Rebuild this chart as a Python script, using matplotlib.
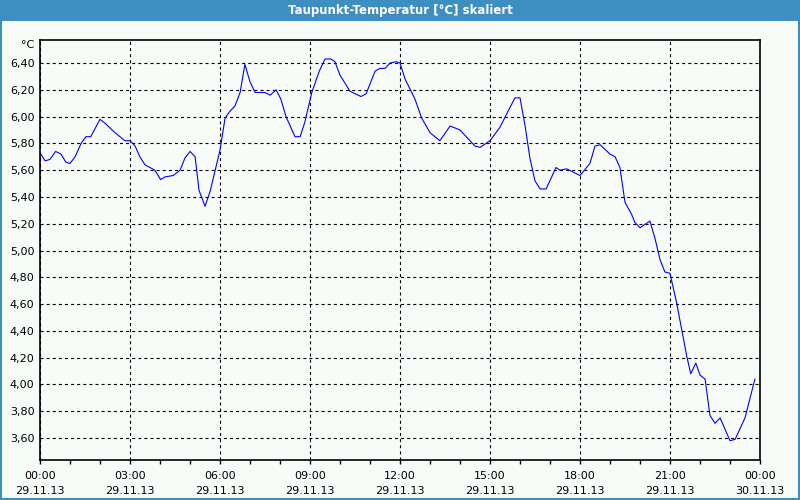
import numpy as np
import matplotlib
matplotlib.use('Agg')
import matplotlib.pyplot as plt
from matplotlib.patches import Rectangle
from matplotlib.ticker import FuncFormatter, MultipleLocator

# Taupunkt readings, hours since 29.11.13 00:00
hours = [0.00, 0.17, 0.33, 0.52, 0.70, 0.86, 1.00, 1.17, 1.37, 1.53, 1.69, 2.00,
         2.17, 2.50, 2.83, 3.00, 3.17, 3.33, 3.50, 3.83, 4.02, 4.17, 4.44, 4.67,
         4.83, 5.00, 5.17, 5.30, 5.50, 5.67, 6.00, 6.17, 6.33, 6.50, 6.67, 6.83,
         7.00, 7.17, 7.50, 7.67, 7.87, 8.03, 8.20, 8.50, 8.67, 8.83, 9.06, 9.31,
         9.50, 9.70, 9.83, 10.00, 10.33, 10.70, 10.87, 11.17, 11.33, 11.50, 11.67, 11.87,
         12.00, 12.17, 12.50, 12.72, 13.00, 13.33, 13.67, 14.00, 14.50, 14.67, 15.00, 15.33,
         15.83, 16.00, 16.17, 16.33, 16.50, 16.67, 16.87, 17.20, 17.33, 17.56, 18.00, 18.33,
         18.50, 18.67, 19.00, 19.17, 19.33, 19.50, 19.72, 19.83, 20.00, 20.33, 20.50, 20.67,
         20.83, 21.00, 21.22, 21.39, 21.56, 21.69, 21.86, 22.00, 22.17, 22.33, 22.50, 22.67,
         23.00, 23.17, 23.50, 23.83]
taupunkt = [5.73, 5.67, 5.68, 5.74, 5.72, 5.66, 5.65, 5.70, 5.80, 5.85, 5.85, 5.98,
            5.95, 5.88, 5.82, 5.82, 5.78, 5.70, 5.64, 5.60, 5.53, 5.55, 5.56, 5.60,
            5.69, 5.74, 5.70, 5.45, 5.33, 5.44, 5.75, 5.99, 6.04, 6.08, 6.18, 6.39,
            6.26, 6.18, 6.18, 6.16, 6.20, 6.13, 6.00, 5.85, 5.85, 5.96, 6.18, 6.34,
            6.43, 6.43, 6.41, 6.31, 6.19, 6.15, 6.17, 6.34, 6.36, 6.36, 6.40, 6.41,
            6.40, 6.28, 6.13, 5.99, 5.88, 5.82, 5.93, 5.90, 5.78, 5.77, 5.82, 5.92,
            6.14, 6.14, 5.93, 5.69, 5.52, 5.46, 5.46, 5.62, 5.60, 5.61, 5.56, 5.65,
            5.78, 5.79, 5.72, 5.70, 5.62, 5.36, 5.27, 5.21, 5.17, 5.22, 5.09, 4.93,
            4.84, 4.83, 4.61, 4.41, 4.21, 4.08, 4.16, 4.07, 4.04, 3.77, 3.71, 3.75,
            3.58, 3.59, 3.75, 4.04]

xtick_pos = [0, 3, 6, 9, 12, 15, 18, 21, 24]
xtick_labels = ['00:00\n29.11.13', '03:00\n29.11.13', '06:00\n29.11.13',
                '09:00\n29.11.13', '12:00\n29.11.13', '15:00\n29.11.13',
                '18:00\n29.11.13', '21:00\n29.11.13', '00:00\n30.11.13']
ytick_pos = [3.6, 3.8, 4.0, 4.2, 4.4, 4.6, 4.8, 5.0, 5.2, 5.4, 5.6, 5.8, 6.0, 6.2, 6.4]

plt.rcParams['font.family'] = 'DejaVu Sans'
plt.rcParams['lines.scale_dashes'] = False

bg = '#f8fcf9'
frame_blue = '#3d8fc2'

fig = plt.figure(figsize=(8, 5), dpi=100, facecolor=bg)

# title bar and window border
fig.patches.append(Rectangle((0, 1 - 21 / 500), 1, 21 / 500, transform=fig.transFigure,
                             facecolor=frame_blue, edgecolor='none', zorder=0))
fig.patches.append(Rectangle((0.001, 0.002), 0.998, 0.996, transform=fig.transFigure,
                             facecolor='none', edgecolor=frame_blue, lw=1.5, zorder=1))
fig.text(0.5, 1 - 10.5 / 500, 'Taupunkt-Temperatur [°C] skaliert', color='white',
         ha='center', va='center', fontsize=8.5, fontweight='bold')

ax = fig.add_axes([40 / 800, 40 / 500, 720 / 800, 420 / 500])
ax.set_facecolor(bg)
ax.plot(hours, taupunkt, color='#0000ff', lw=0.8, zorder=3)

ax.set_xlim(0, 24)
ax.set_ylim(3.436, 6.572)

ax.set_xticks(xtick_pos)
ax.set_xticklabels(xtick_labels, fontsize=8, linespacing=1.55)
ax.xaxis.set_minor_locator(MultipleLocator(1))
ax.tick_params(axis='x', which='both', direction='out', length=3, width=1, pad=5)

ax.set_yticks(ytick_pos)
ax.yaxis.set_major_formatter(FuncFormatter(lambda v, p: f'{v:.2f}'.replace('.', ',')))
ax.tick_params(axis='y', length=0, pad=4, labelsize=8)

ax.grid(True, which='major', color='black', lw=0.8, linestyle=(0, (2.2, 2.2)))

for s in ax.spines.values():
    s.set_color('black')
    s.set_linewidth(1.2)

ax.text(-0.008, 0.988, '°C', transform=ax.transAxes, ha='right', va='center', fontsize=8)

fig.savefig('out.png', dpi=100, facecolor=bg)
